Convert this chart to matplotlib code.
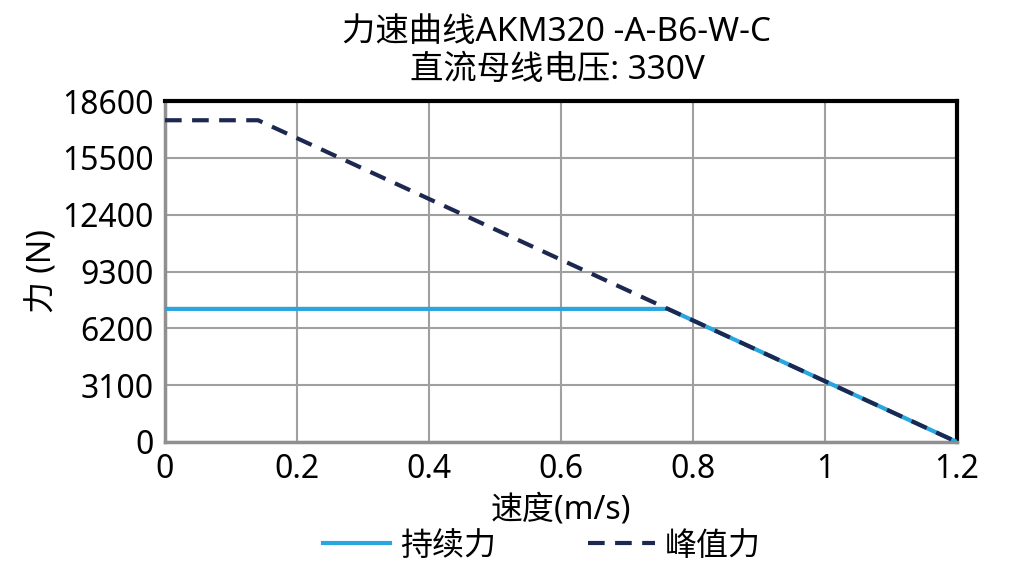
import matplotlib
matplotlib.use('Agg')
import matplotlib.pyplot as plt

plt.rcParams['font.family'] = ['Noto Sans', 'Noto Sans CJK SC', 'DejaVu Sans']

# 速度 (m/s) 和 力 (N)
peak_speed = [0.0, 0.141, 1.2]
peak_force = [17550, 17550, 0]
cont_speed = [0.0, 0.762, 1.2]
cont_force = [7260, 7260, 0]

xticks = [0, 0.2, 0.4, 0.6, 0.8, 1, 1.2]
xticklabels = ['0', '0.2', '0.4', '0.6', '0.8', '1', '1.2']
yticks = [0, 3100, 6200, 9300, 12400, 15500, 18600]

fig = plt.figure(figsize=(10.1, 5.82), dpi=100)
ax = fig.add_axes([165 / 1010, 1 - 442 / 582, 792 / 1010, 341 / 582])

ax.plot(cont_speed, cont_force, color='#29a6e0', lw=3, label='持续力', zorder=3)
ax.plot(peak_speed, peak_force, color='#1c2850', lw=3, ls=(0, (4, 2.5)), label='峰值力', zorder=4)

ax.set_xlim(0, 1.2)
ax.set_ylim(0, 18600)
ax.set_xticks(xticks)
ax.set_xticklabels(xticklabels)
ax.set_yticks(yticks)
ax.grid(True, color='#a0a0a0', lw=1.5)
ax.tick_params(length=0, labelsize=23, pad=8)

for s in ['top', 'right']:
    ax.spines[s].set_color('black')
    ax.spines[s].set_linewidth(3)
for s in ['left', 'bottom']:
    ax.spines[s].set_color('#909090')
    ax.spines[s].set_linewidth(2.5)

ax.set_xlabel('速度(m/s)', fontsize=23, labelpad=5)
ax.set_ylabel('力 (N)', fontsize=23, labelpad=2)

# 标题两行
fig.text(557 / 1010, 1 - 32 / 582, '力速曲线AKM320 -A-B6-W-C', fontsize=24, ha='center', va='center')
fig.text(557 / 1010, 1 - 70 / 582, '直流母线电压: 330V', fontsize=24, ha='center', va='center')

fig.legend(loc='center', bbox_to_anchor=(542 / 1010, 1 - 546 / 582), ncol=2, frameon=False,
           fontsize=23, handlelength=2.1, columnspacing=2.9, handletextpad=0.3)

fig.savefig('out.png', dpi=100)
